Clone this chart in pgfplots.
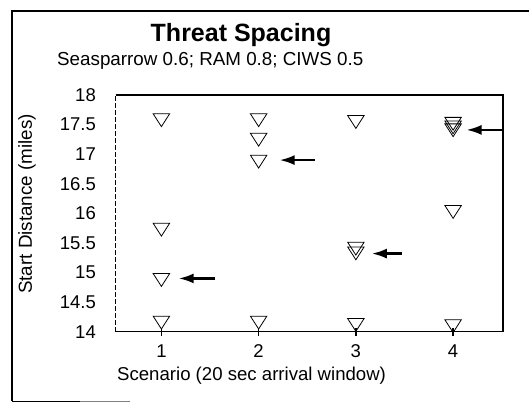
\documentclass[border=0pt]{standalone}
\usepackage{fontspec}
\setmainfont{Liberation Sans}
\usepackage{pgfplots}
\pgfplotsset{compat=1.18}
\usetikzlibrary{arrows.meta}

\pgfplotstableread{
x y
1 17.61
1 15.76
1 14.91
1 14.19
2 17.61
2 17.28
2 16.91
2 14.19
3 17.58
3 15.44
3 15.36
3 14.15
4 17.55
4 17.49
4 17.44
4 16.06
4 14.13
}\pts

\begin{document}
\begin{tikzpicture}
\useasboundingbox (0,0) rectangle (529bp,404bp);
% outer frame (scanned page border)
\draw[line width=1.3bp] (12bp,2.5bp) -- (12bp,393bp) -- (529bp,393bp);
\draw[line width=1.3bp] (12bp,2.5bp) -- (80bp,2.5bp);
\draw[line width=0.6bp, black!50] (80bp,2.5bp) -- (130bp,2.5bp);
% titles
\node[anchor=base, inner sep=0pt, font=\fontsize{25bp}{29bp}\selectfont\bfseries] at (241bp,362bp) {Threat Spacing};
\node[anchor=base west, inner sep=0pt, font=\fontsize{18.8bp}{22bp}\selectfont] at (57bp,338bp) {Seasparrow 0.6; RAM 0.8; CIWS 0.5};
% axis labels
\node[anchor=base west, inner sep=0pt, font=\fontsize{18.6bp}{22bp}\selectfont] at (117bp,24bp) {Scenario (20 sec arrival window)};
\node[rotate=90, inner sep=0pt, font=\fontsize{18.8bp}{22bp}\selectfont] at (27bp,200bp) {Start Distance (miles)};
\begin{axis}[
  at={(115.7bp,72.3bp)}, anchor=south west,
  scale only axis, width=387bp, height=236.7bp,
  xmin=0.53, xmax=4.51, ymin=14, ymax=18,
  clip=false,
  axis line style={draw=none},
  xtick={1,2,3,4}, xtick pos=bottom,
  ytick={14,14.5,15,15.5,16,16.5,17,17.5,18},
  yticklabels={14,14.5,15,15.5,16,16.5,17,17.5,18},
  xticklabels={1,2,3,4},
  ytick style={draw=none},
  xtick style={line width=1.4bp, black},
  major tick length=8bp, tick align=center,
  /pgf/number format/assume math mode=true,
  ticklabel style={font=\fontsize{18.5bp}{20bp}\selectfont},
  yticklabel style={inner sep=0pt, xshift=-15.7bp},
  xticklabel style={inner sep=0pt, yshift=-9bp},
]
\draw[line width=1.6bp] (rel axis cs:0,1) -- (rel axis cs:1,1) -- (rel axis cs:1,0) -- (rel axis cs:0,0);
\draw[line width=1.3bp, dash pattern=on 5bp off 2bp] (rel axis cs:0,0) -- (rel axis cs:0,1);
\addplot[only marks, mark=triangle, mark size=9.5bp,
  mark options={yscale=-0.9, line width=0.8bp, black, solid}] table[x=x,y=y] {\pts};
\draw[line width=2.3bp, -{Latex[length=15bp,width=10bp]}] (axis cs:1.554,14.90) -- (axis cs:1.178,14.90);
\draw[line width=2.3bp, -{Latex[length=15bp,width=10bp]}] (axis cs:2.575,16.90) -- (axis cs:2.216,16.90);
\draw[line width=2.3bp, -{Latex[length=15bp,width=10bp]}] (axis cs:3.472,15.32) -- (axis cs:3.164,15.32);
\draw[line width=2.3bp, -{Latex[length=15bp,width=10bp]}] (axis cs:4.51,17.41) -- (axis cs:4.138,17.41);
\end{axis}
\end{tikzpicture}
\end{document}
